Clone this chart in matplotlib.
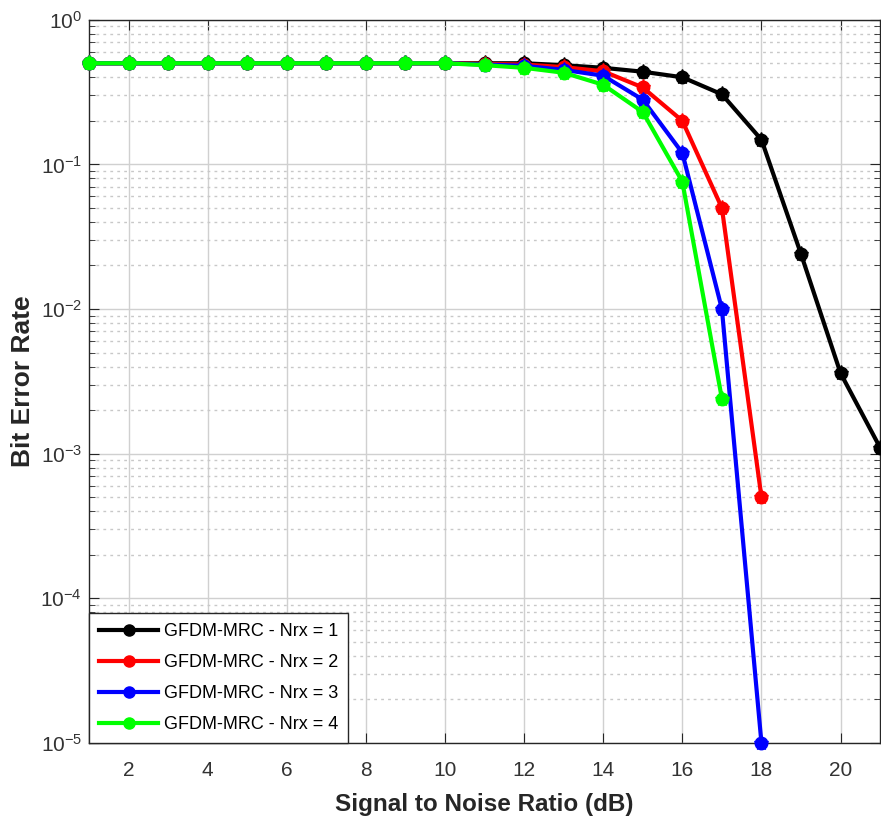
import matplotlib
import matplotlib.pyplot as plt
from matplotlib.lines import Line2D
from matplotlib.ticker import LogLocator, NullFormatter, MultipleLocator

matplotlib.use("Agg")

plt.rcParams["font.family"] = ["Liberation Sans", "DejaVu Sans"]
plt.rcParams["axes.unicode_minus"] = False
plt.rcParams["mathtext.fontset"] = "custom"
plt.rcParams["mathtext.rm"] = "Liberation Sans"

snr_db = [1, 2, 3, 4, 5, 6, 7, 8, 9, 10, 11, 12, 13, 14, 15, 16, 17, 18, 19, 20, 21]

ber_nrx1 = [0.5, 0.5, 0.5, 0.5, 0.5, 0.5, 0.5, 0.5, 0.5, 0.5, 0.5, 0.5, 0.485,
            0.465, 0.437, 0.40, 0.305, 0.148, 0.024, 0.0036, 0.0011]
ber_nrx2 = [0.5, 0.5, 0.5, 0.5, 0.5, 0.5, 0.5, 0.5, 0.5, 0.5, 0.495, 0.49, 0.47,
            0.44, 0.34, 0.20, 0.050, 0.0005]
ber_nrx3 = [0.5, 0.5, 0.5, 0.5, 0.5, 0.5, 0.5, 0.5, 0.5, 0.5, 0.49, 0.48, 0.45,
            0.41, 0.28, 0.12, 0.010, 0.00001]
ber_nrx4 = [0.5, 0.5, 0.5, 0.5, 0.5, 0.5, 0.5, 0.5, 0.5, 0.5, 0.485, 0.465, 0.43,
            0.355, 0.23, 0.076, 0.0024]

series = [
    ("GFDM-MRC - Nrx = 1", ber_nrx1, "#000000"),
    ("GFDM-MRC - Nrx = 2", ber_nrx2, "#ff0000"),
    ("GFDM-MRC - Nrx = 3", ber_nrx3, "#0000ff"),
    ("GFDM-MRC - Nrx = 4", ber_nrx4, "#00ff00"),
]

fig = plt.figure(figsize=(8.81, 8.21), dpi=100)
ax = fig.add_axes([0.101, 0.095, 0.898, 0.881])

for label, ber, color in series:
    x = snr_db[:len(ber)]
    ax.semilogy(x, ber, color=color, lw=3, marker="o", ms=9,
                mec=color, mfc=color, label=label, clip_on=False, zorder=3)
    # spiky overlay, like MATLAB's thick '*' marker
    ax.semilogy(x, ber, lw=0, marker="*", ms=11, mec=color, mfc=color,
                clip_on=False, zorder=3)

ax.set_xlim(1, 21)
ax.set_ylim(1e-5, 1)
ax.xaxis.set_major_locator(MultipleLocator(2))
ax.yaxis.set_major_locator(LogLocator(base=10, numticks=10))
ax.yaxis.set_minor_locator(LogLocator(base=10, subs=range(2, 10), numticks=10))
ax.yaxis.set_minor_formatter(NullFormatter())

ax.grid(True, which="major", color="#d0d0d0", lw=1, ls="-")
ax.grid(True, which="minor", axis="y", color="#c8c8c8", lw=1, ls=(0, (2, 3)))
ax.set_axisbelow(True)

ax.tick_params(which="both", direction="in", top=True, right=True,
               labelsize=15, labelcolor="#333333", color="#262626")
ax.tick_params(which="major", length=7)
ax.tick_params(which="minor", length=4)
ax.tick_params(axis="x", pad=13)
ax.tick_params(axis="y", pad=5)
for sp in ax.spines.values():
    sp.set_color("#262626")
    sp.set_linewidth(1)

ax.set_xlabel("Signal to Noise Ratio (dB)", fontsize=17.5, fontweight="bold",
              color="#262626", labelpad=9)
ax.set_ylabel("Bit Error Rate", fontsize=19, fontweight="bold",
              color="#262626", labelpad=4)

handles = [Line2D([0], [0], color=c, lw=3, marker="o", ms=8, mfc=c, mec=c)
           for _, _, c in series]
leg = ax.legend(handles, [s[0] for s in series], loc="lower left", fontsize=13,
                frameon=True, fancybox=False, edgecolor="#262626",
                borderaxespad=0.0, handlelength=3.3, labelspacing=0.78,
                borderpad=0.55, handletextpad=0.3, framealpha=1)
leg.get_frame().set_linewidth(1)

fig.savefig("out.png", dpi=100)
